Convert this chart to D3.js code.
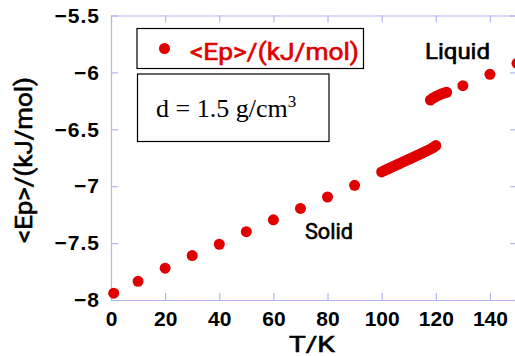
<!DOCTYPE html>
<html><head><meta charset="utf-8">
<script src="https://cdn.jsdelivr.net/npm/d3@7"></script>
<style>body{margin:0;background:#fff}svg{display:block}</style>
</head><body>
<script>
// Data
const solidT = [1,10,20,30,40,50,60,70,80,90,100,101,102,103,104,105,106,107,108,109,110,111,112,113,114,115,116,117,118,119,120];
const solidEp = [-7.94,-7.836,-7.72,-7.61,-7.51,-7.40,-7.295,-7.195,-7.095,-6.992,-6.875,-6.863,-6.852,-6.840,-6.829,-6.818,-6.807,-6.797,-6.786,-6.775,-6.764,-6.753,-6.742,-6.731,-6.720,-6.709,-6.697,-6.686,-6.674,-6.660,-6.643];
const liquidT = [118,119,120,121,122,123,124,130,140,150];
const liquidEp = [-6.243,-6.225,-6.212,-6.2,-6.19,-6.182,-6.175,-6.117,-6.017,-5.92];
const xTicks = [0,20,40,60,80,100,120,140];
const yTicks = [-8,-7.5,-7,-6.5,-6,-5.5];
const legendLabel = "<Ep>/(kJ/mol)";
const yLabel = "<Ep>/(kJ/mol)";
const xLabel = "T/K";

const W = 515, H = 356;
const red = "#e00000", axisCol = "#b3b6f0";
const svg = d3.select("body").append("svg").attr("width", W).attr("height", H);
const x = d3.scaleLinear().domain([0,150]).range([111,517]);
const y = d3.scaleLinear().domain([-8,-5.5]).range([300,15.5]);
const fmt = d => (d < 0 ? "\u2212" : "") + Math.abs(d);
const font = "Liberation Sans, Arial, sans-serif";
const gothic = "Roboto, sans-serif";

const g = svg.append("g");
function axisStyle(sel){
  sel.select(".domain").attr("stroke", axisCol).attr("stroke-width", 1.2);
  sel.selectAll(".tick line").attr("stroke", axisCol).attr("stroke-width", 1.2);
  sel.selectAll("text").attr("fill","#000").attr("font-family", font).attr("font-weight","bold").attr("font-size", 21);
}
const xb = g.append("g").attr("transform",`translate(0,${y(-8)})`)
  .call(d3.axisBottom(x).tickValues(xTicks).tickFormat(d=>d).tickSizeInner(-7).tickSizeOuter(0).tickPadding(11));
axisStyle(xb);
const xt = g.append("g").attr("transform",`translate(0,${y(-5.5)})`)
  .call(d3.axisTop(x).tickValues(xTicks).tickFormat("").tickSizeInner(-7).tickSizeOuter(0));
axisStyle(xt);
const yl = g.append("g").attr("transform",`translate(${x(0)},0)`)
  .call(d3.axisLeft(y).tickValues(yTicks).tickFormat(fmt).tickSizeInner(-7).tickSizeOuter(0).tickPadding(11));
axisStyle(yl);
yl.selectAll("text").attr("letter-spacing", 1);
const yr = g.append("g").attr("transform",`translate(${x(150)},0)`)
  .call(d3.axisRight(y).tickValues(yTicks).tickFormat("").tickSizeInner(-7).tickSizeOuter(0));
axisStyle(yr);

function medium(sel, col){ return sel.attr("font-family", gothic).attr("font-weight", 400)
  .attr("fill", col).attr("stroke", col).attr("stroke-width", 0.6); }

// axis titles
medium(svg.append("text"), "#000").attr("x", 312).attr("y", 351.5).attr("text-anchor","middle")
  .attr("font-size", 22).attr("textLength", 46).attr("lengthAdjust","spacingAndGlyphs").text(xLabel);
medium(svg.append("text"), "#000").attr("transform","translate(31.5,160) rotate(-90)").attr("text-anchor","middle")
  .attr("font-size", 23).attr("textLength", 166).attr("lengthAdjust","spacingAndGlyphs").text(yLabel);

// points
const pts = solidT.map((t,i)=>({t, v: solidEp[i]})).concat(liquidT.map((t,i)=>({t, v: liquidEp[i]})));
svg.append("g").selectAll("circle").data(pts).join("circle")
  .attr("cx", d=>x(d.t)).attr("cy", d=>y(d.v)).attr("r", 5.5).attr("fill", red);

// legend
svg.append("rect").attr("x",137).attr("y",28.5).attr("width",226.5).attr("height",40)
  .attr("fill","#fff").attr("stroke","#000").attr("stroke-width",1.2);
svg.append("circle").attr("cx",164.5).attr("cy",48.5).attr("r",5.5).attr("fill",red);
medium(svg.append("text"), red).attr("x",190).attr("y",59.5)
  .attr("font-size",23).attr("textLength",169).attr("lengthAdjust","spacingAndGlyphs").text(legendLabel);

// density box
svg.append("rect").attr("x",137.5).attr("y",74).attr("width",191.5).attr("height",67.5)
  .attr("fill","#fff").attr("stroke","#000").attr("stroke-width",1.2);
const dt = svg.append("text").attr("x",156).attr("y",116.5)
  .attr("font-family","Liberation Serif, Times New Roman, serif").attr("font-size",26);
dt.append("tspan").text("d = 1.5 g/cm");
dt.append("tspan").attr("dy",-10).attr("font-size",17).text("3");

medium(svg.append("text"), "#000").attr("x",425).attr("y",58.5)
  .attr("font-size",22).attr("textLength",65).attr("lengthAdjust","spacingAndGlyphs").text("Liquid");
medium(svg.append("text"), "#000").attr("x",305).attr("y",238.5)
  .attr("font-size",22).attr("textLength",48).attr("lengthAdjust","spacingAndGlyphs").text("Solid");
</script>
</body></html>
